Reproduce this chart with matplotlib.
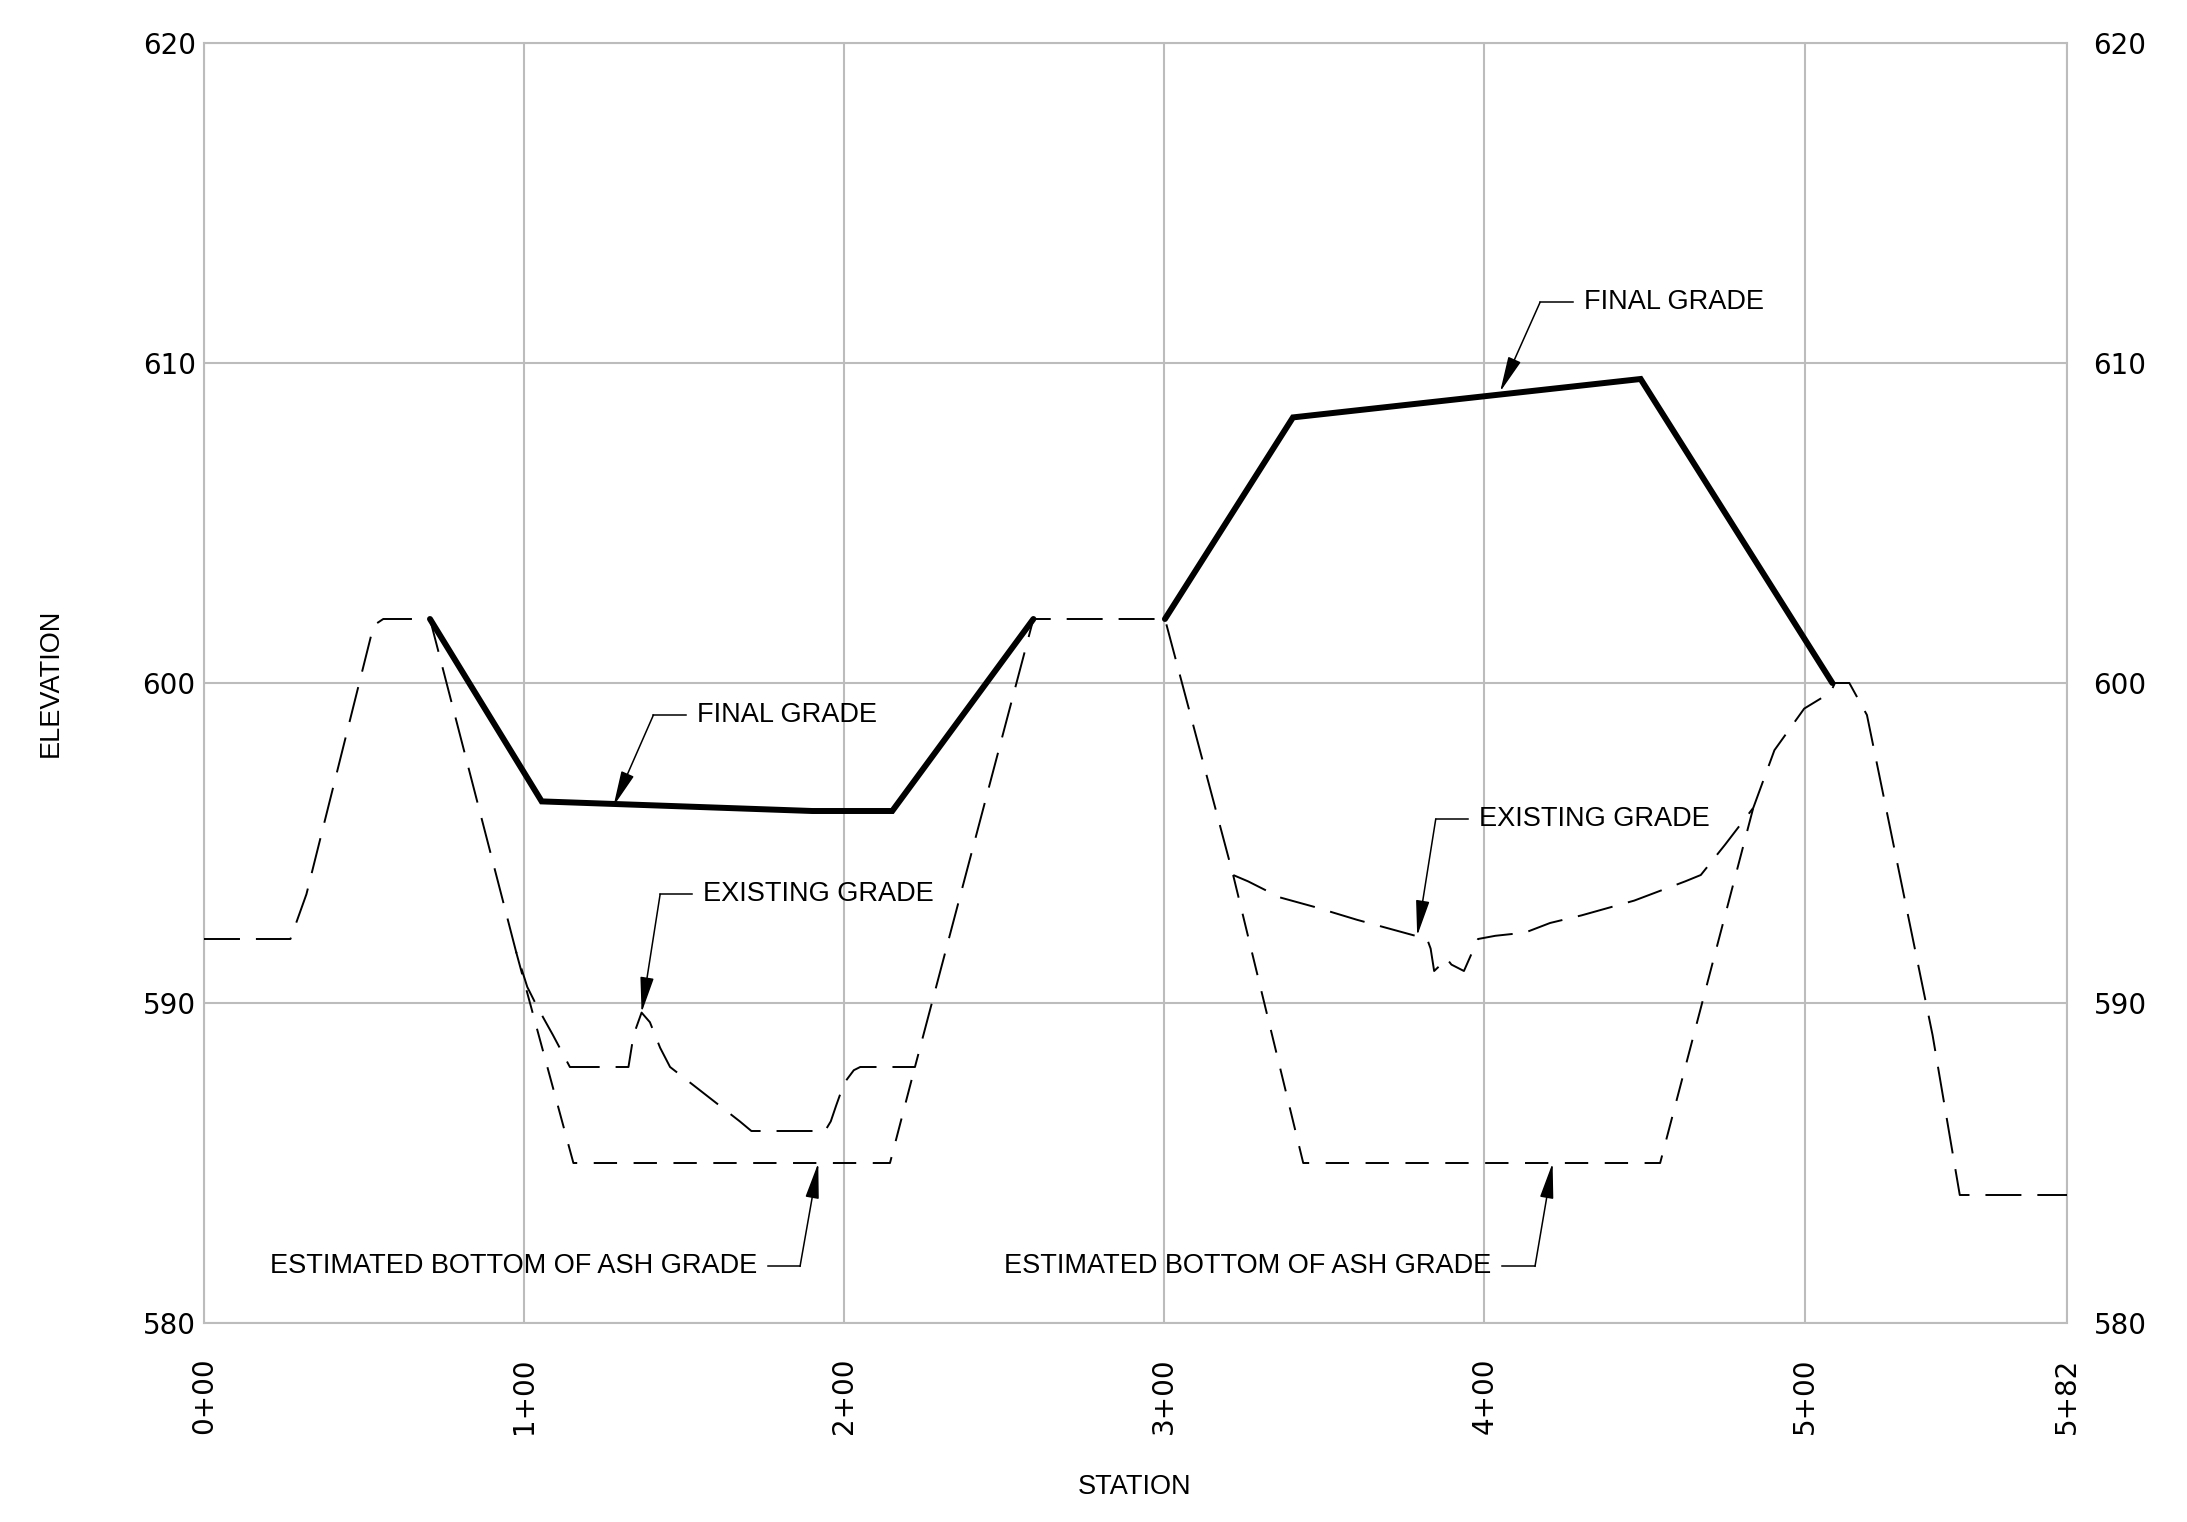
import matplotlib
matplotlib.use("Agg")
import matplotlib.pyplot as plt

# ---------------- data ----------------
station_ticks = [0, 100, 200, 300, 400, 500, 582]
station_labels = ["0+00", "1+00", "2+00", "3+00", "4+00", "5+00", "5+82"]
elev_ticks = [580, 590, 600, 610, 620]

final_left_sta = [70.6, 105.5, 190, 215, 259.1]
final_left_elev = [602.0, 596.3, 596.0, 596.0, 602.0]
final_right_sta = [300.2, 340.2, 448.8, 508.7]
final_right_elev = [602.0, 608.3, 609.5, 600.0]

existing_sta = [0, 27, 32, 50, 53, 56, 70.6, 97.5, 101, 104, 109, 114.3, 132.6,
                134.2, 136.7, 139.3, 142.5, 145.6, 167.4, 171, 194, 195.8, 197.5,
                200, 203, 205, 222.1, 259.1, 300.2, 321.5, 326.2, 336.1, 347,
                360.2, 382.1, 383.2, 384.3, 386.4, 388.1, 389.7, 393.6, 398, 403.4,
                412.7, 420.5, 430.4, 446.8, 462.7, 467.6, 475.2, 484, 490.6, 499.9,
                508.1, 509.5, 514, 519.5, 540, 548.5, 582]
existing_elev = [592, 592, 593.4, 600.6, 601.8, 602, 602, 591.6, 590.5, 589.9, 589.0,
                 588, 588, 589.0, 589.7, 589.4, 588.6, 588.0, 586.3, 586.0, 586.0,
                 586.3, 586.8, 587.5, 587.9, 588, 588, 602, 602, 594.0, 593.8,
                 593.3, 593.0, 592.6, 592.0, 591.7, 591.0, 591.2, 591.4, 591.2,
                 591.0, 592.0, 592.1, 592.2, 592.5, 592.74, 593.2, 593.8, 594.0,
                 594.95, 596.1, 597.9, 599.2, 599.7, 600, 600, 599.0, 589.0, 584.0,
                 584.0]

ash_left_sta = [97.5, 115.4, 214.3, 222.1]
ash_left_elev = [591.6, 585, 585, 588]
ash_right_sta = [321.5, 343.4, 454.9, 484]
ash_right_elev = [594.0, 585, 585, 596.1]

ann_text = ["FINAL GRADE", "FINAL GRADE", "EXISTING GRADE", "EXISTING GRADE",
            "ESTIMATED BOTTOM OF ASH GRADE", "ESTIMATED BOTTOM OF ASH GRADE"]
ann_tip = [(404.9, 609.1), (127.9, 596.15), (136.7, 589.7), (379.0, 592.1),
           (191.9, 585.0), (421.3, 585.0)]
ann_elbow = [(417.4, 611.9), (140.4, 599.0), (142.5, 593.4), (384.8, 595.75),
             (186.2, 581.77), (415.8, 581.77)]
ann_end = [427.6, 150.6, 152.4, 395.0, 176.3, 405.6]
ann_side = ["right", "right", "right", "right", "left", "left"]

# ---------------- figure ----------------
W, H = 2187, 1522
fig = plt.figure(figsize=(W / 100, H / 100), dpi=100)
ax = fig.add_axes([204 / W, 1 - 1323 / H, 1863 / W, 1280 / H])

ax.set_xlim(0, 582)
ax.set_ylim(580, 620)

grid_col = "#bcbcbc"
for s in ax.spines.values():
    s.set_color(grid_col)
    s.set_linewidth(1.5)
ax.grid(True, color=grid_col, linewidth=1.5)
ax.set_axisbelow(True)

ax.set_xticks(station_ticks)
ax.set_xticklabels(station_labels, rotation=90, va="top", ha="center",
                   fontsize=20, family="DejaVu Sans")
ax.set_yticks(elev_ticks)
ax.set_yticklabels([str(v) for v in elev_ticks], fontsize=20, family="DejaVu Sans")
ax.tick_params(axis="x", length=0, pad=25)
ax.tick_params(axis="y", length=0, pad=6)

ax2 = ax.twinx()
ax2.set_ylim(580, 620)
ax2.set_yticks(elev_ticks)
ax2.set_yticklabels([str(v) for v in elev_ticks], fontsize=20, family="DejaVu Sans")
ax2.tick_params(axis="y", length=0, pad=19)
for s in ax2.spines.values():
    s.set_visible(False)

# existing grade
ax.plot(existing_sta, existing_elev, color="black", linewidth=1.4,
        linestyle=(0, (18.5, 8.2)), zorder=3)
# ash bottom
for xs, ys in [(ash_left_sta, ash_left_elev), (ash_right_sta, ash_right_elev)]:
    ax.plot(xs, ys, color="black", linewidth=1.4,
            linestyle=(0, (12, 8.5)), zorder=3)
# final grade
for xs, ys in [(final_left_sta, final_left_elev), (final_right_sta, final_right_elev)]:
    ax.plot(xs, ys, color="black", linewidth=4.3,
            solid_capstyle="round", solid_joinstyle="miter", zorder=4)

# annotations
tf = dict(family="Liberation Sans", fontsize=19.5, color="black")
for txt, tip, elb, end, side in zip(ann_text, ann_tip, ann_elbow, ann_end, ann_side):
    ax.plot([elb[0], end], [elb[1], elb[1]], color="black", linewidth=1.1, zorder=5)
    ax.annotate("", xy=tip, xytext=elb,
                arrowprops=dict(arrowstyle="-|>,head_length=2.2,head_width=0.42",
                                mutation_scale=10, color="black", lw=1.1,
                                shrinkA=0, shrinkB=0),
                zorder=5)
    if side == "right":
        ax.text(end + 3.4, elb[1], txt, ha="left", va="center", **tf)
    else:
        ax.text(end - 3.4, elb[1], txt, ha="right", va="center", **tf)

fig.text(51 / W, 1 - 683 / H, "ELEVATION", rotation=90, ha="center", va="center",
         family="Liberation Sans", fontsize=19.5)
fig.text(1135 / W, 1 - 1487 / H, "STATION", ha="center", va="center",
         family="Liberation Sans", fontsize=19.5)

fig.savefig("out.png", dpi=100, facecolor="white")
